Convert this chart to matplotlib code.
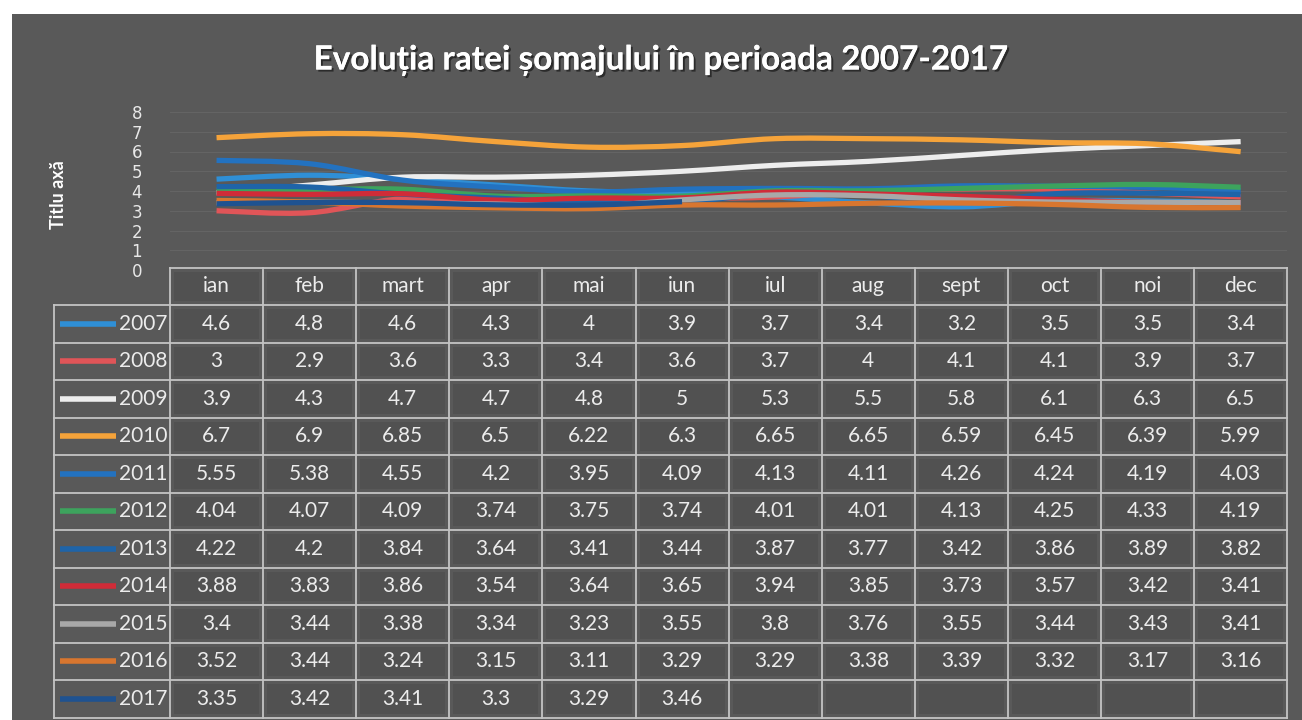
import numpy as np
import matplotlib
matplotlib.use("Agg")
import matplotlib.pyplot as plt
from matplotlib.path import Path
from matplotlib.patches import PathPatch, Rectangle
import matplotlib.patheffects as pe

plt.rcParams['font.family'] = ['Lato', 'DejaVu Sans']

title = "Evoluția ratei șomajului în perioada 2007-2017"
ylabel = "Titlu axă"
months = ["ian", "feb", "mart", "apr", "mai", "iun", "iul", "aug", "sept", "oct", "noi", "dec"]
years = ["2007", "2008", "2009", "2010", "2011", "2012", "2013", "2014", "2015", "2016", "2017"]

s2007 = [4.6, 4.8, 4.6, 4.3, 4, 3.9, 3.7, 3.4, 3.2, 3.5, 3.5, 3.4]
s2008 = [3, 2.9, 3.6, 3.3, 3.4, 3.6, 3.7, 4, 4.1, 4.1, 3.9, 3.7]
s2009 = [3.9, 4.3, 4.7, 4.7, 4.8, 5, 5.3, 5.5, 5.8, 6.1, 6.3, 6.5]
s2010 = [6.7, 6.9, 6.85, 6.5, 6.22, 6.3, 6.65, 6.65, 6.59, 6.45, 6.39, 5.99]
s2011 = [5.55, 5.38, 4.55, 4.2, 3.95, 4.09, 4.13, 4.11, 4.26, 4.24, 4.19, 4.03]
s2012 = [4.04, 4.07, 4.09, 3.74, 3.75, 3.74, 4.01, 4.01, 4.13, 4.25, 4.33, 4.19]
s2013 = [4.22, 4.2, 3.84, 3.64, 3.41, 3.44, 3.87, 3.77, 3.42, 3.86, 3.89, 3.82]
s2014 = [3.88, 3.83, 3.86, 3.54, 3.64, 3.65, 3.94, 3.85, 3.73, 3.57, 3.42, 3.41]
s2015 = [3.4, 3.44, 3.38, 3.34, 3.23, 3.55, 3.8, 3.76, 3.55, 3.44, 3.43, 3.41]
s2016 = [3.52, 3.44, 3.24, 3.15, 3.11, 3.29, 3.29, 3.38, 3.39, 3.32, 3.17, 3.16]
s2017 = [3.35, 3.42, 3.41, 3.3, 3.29, 3.46]

series = [s2007, s2008, s2009, s2010, s2011, s2012, s2013, s2014, s2015, s2016, s2017]
colors = ["#2f8fd6", "#e05558", "#ededed", "#f5a33a", "#2372c0", "#3da35d",
          "#1f64a8", "#d02c38", "#a8a8a8", "#d8762f", "#1f5290"]
yticks = [0, 1, 2, 3, 4, 5, 6, 7, 8]

W, H = 1302, 720
fig = plt.figure(figsize=(W / 100, H / 100), dpi=100)
fig.patch.set_facecolor("white")

# pixel-coordinate overlay for background and table
bg = fig.add_axes([0, 0, 1, 1], zorder=0)
bg.set_xlim(0, W)
bg.set_ylim(H, 0)
bg.axis("off")
bg.add_patch(Rectangle((12, 14), W - 12, H - 14, facecolor="#595959", edgecolor="none"))

# layout (pixels)
col_left, col_w = 170, 93.1
head_top, head_bot = 268, 305
row_h = 37.5
leg_left = 54
ncol = len(months)
nrow = len(years)
col_right = col_left + col_w * ncol
table_bot = head_bot + row_h * nrow

# main line chart
ax_top, ax_bot = 112, 270
ax = fig.add_axes([col_left / W, 1 - ax_bot / H, (col_right - col_left) / W, (ax_bot - ax_top) / H], zorder=2)
ax.set_facecolor("none")
ax.set_xlim(-0.5, ncol - 0.5)
ax.set_ylim(0, 8)
for sp in ax.spines.values():
    sp.set_visible(False)
ax.set_xticks([])
ax.set_yticks(yticks)
ax.set_yticklabels([str(t) for t in yticks], color="#e8e8e8", fontsize=12,
                   family=['Liberation Sans Narrow', 'DejaVu Sans'])
ax.tick_params(axis="y", length=0, pad=20)
for t in yticks:
    ax.axhline(t, color="#646464", lw=0.8, zorder=0)


def smooth_path(xs, ys):
    pts = np.column_stack([xs, ys]).astype(float)
    n = len(pts)
    verts = [pts[0]]
    codes = [Path.MOVETO]
    for i in range(n - 1):
        p0 = pts[i - 1] if i > 0 else pts[i]
        p1 = pts[i]
        p2 = pts[i + 1]
        p3 = pts[i + 2] if i + 2 < n else pts[i + 1]
        c1 = p1 + (p2 - p0) / 6.0
        c2 = p2 - (p3 - p1) / 6.0
        verts += [c1, c2, p2]
        codes += [Path.CURVE4] * 3
    return Path(verts, codes)


for vals, c in zip(series, colors):
    xs = np.arange(len(vals))
    path = smooth_path(xs, vals)
    ax.add_patch(PathPatch(path, facecolor="none", edgecolor=c, lw=3.8,
                           capstyle="butt", zorder=3))

# title and axis title
fig.text(661 / W, 1 - 60 / H, title, ha="center", va="center", color="white",
         fontsize=24, fontweight="bold",
         path_effects=[pe.withSimplePatchShadow(offset=(1.5, -1.5), shadow_rgbFace="#202020", alpha=0.8), pe.Normal()])
fig.text(58 / W, 1 - 195 / H, ylabel, ha="center", va="center", rotation=90,
         color="white", fontsize=13, fontweight="bold")

# table cells (darker inner blocks)
inset = 4
for j in range(ncol):
    x = col_left + j * col_w
    bg.add_patch(Rectangle((x + inset, head_top + inset), col_w - 2 * inset, head_bot - head_top - 2 * inset,
                           facecolor="#515151", edgecolor="none"))
    for i in range(nrow):
        y = head_bot + i * row_h
        bg.add_patch(Rectangle((x + inset, y + inset), col_w - 2 * inset, row_h - 2 * inset,
                               facecolor="#515151", edgecolor="none"))

# table grid
gc, glw = "#c4c4c4", 1.3
for j in range(ncol + 1):
    x = col_left + j * col_w
    bg.plot([x, x], [head_top, table_bot], color=gc, lw=glw)
bg.plot([leg_left, leg_left], [head_bot, table_bot], color=gc, lw=glw)
bg.plot([col_left, col_right], [head_top, head_top], color=gc, lw=glw)
for i in range(nrow + 1):
    y = head_bot + i * row_h
    bg.plot([leg_left, col_right], [y, y], color=gc, lw=glw)

txt_c = "#ececec"
for j, m in enumerate(months):
    bg.text(col_left + (j + 0.5) * col_w, (head_top + head_bot) / 2, m,
            ha="center", va="center", color=txt_c, fontsize=15)

for i, (yr, vals, c) in enumerate(zip(years, series, colors)):
    yc = head_bot + (i + 0.5) * row_h
    bg.plot([60, 116], [yc, yc], color=c, lw=4, solid_capstyle="butt")
    bg.text(167, yc, yr, ha="right", va="center", color=txt_c, fontsize=15)
    for j, v in enumerate(vals):
        bg.text(col_left + (j + 0.5) * col_w, yc, "{:g}".format(v),
                ha="center", va="center", color=txt_c, fontsize=15)

fig.savefig("out.png", dpi=100, facecolor=fig.get_facecolor())
